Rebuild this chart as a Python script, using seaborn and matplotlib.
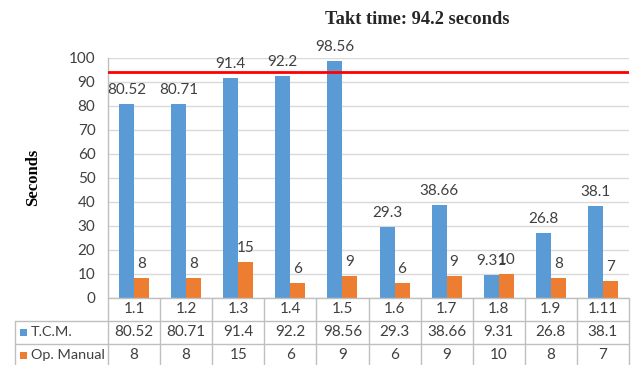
import matplotlib
matplotlib.use("Agg")
import matplotlib.pyplot as plt
import matplotlib.transforms as mtransforms
from matplotlib.patches import Rectangle
import seaborn as sns
import pandas as pd

# Chart data
categories = ["1.1", "1.2", "1.3", "1.4", "1.5", "1.6", "1.7", "1.8", "1.9", "1.11"]
tcm = [80.52, 80.71, 91.4, 92.2, 98.56, 29.3, 38.66, 9.31, 26.8, 38.1]
op_manual = [8, 8, 15, 6, 9, 6, 9, 10, 8, 7]
series_names = ["T.C.M.", "Op. Manual"]
takt_time = 94.2
y_ticks = [0, 10, 20, 30, 40, 50, 60, 70, 80, 90, 100]

colors = ["#5B9BD5", "#ED7D31"]
text_color = "#404040"
grid_color = "#D9D9D9"
table_line = "#BFBFBF"
fs = 11

sns.set_theme(style="white")
plt.rcParams["font.family"] = ["Lato", "DejaVu Sans"]

df = pd.DataFrame({
    "category": categories * 2,
    "value": tcm + op_manual,
    "series": [series_names[0]] * len(categories) + [series_names[1]] * len(categories),
})

fig = plt.figure(figsize=(6.36, 3.65), dpi=100)
ax = fig.add_axes([108 / 636, (365 - 297.5) / 365, 521 / 636, 239.8 / 365])

sns.barplot(data=df, x="category", y="value", hue="series", order=categories,
            hue_order=series_names, palette=colors, width=0.576, saturation=1,
            linewidth=0, ax=ax, legend=False)

for cont in ax.containers:
    ax.bar_label(cont, labels=[f"{v:g}" for v in cont.datavalues],
                 padding=5, fontsize=fs, color=text_color)

ax.set_ylim(0, 100)
ax.set_xlim(-0.5, len(categories) - 0.5)
ax.set_yticks(y_ticks)
ax.tick_params(axis="y", length=0, pad=9, labelsize=fs, labelcolor=text_color)
ax.set_xticks([])
ax.set_xlabel("")
ax.set_ylabel("Seconds", family="Liberation Serif", fontweight="bold",
              fontsize=12, color="black", labelpad=20)
ax.yaxis.grid(True, color=grid_color, linewidth=1)
ax.set_axisbelow(True)
for side in ["top", "right", "bottom"]:
    ax.spines[side].set_visible(False)
ax.spines["left"].set_color(table_line)
ax.spines["left"].set_linewidth(1)

# Takt time reference line
ax.axhline(takt_time, color="#FF0000", linewidth=2, zorder=3)
fig.text(417 / 636, 1 - 20 / 365, f"Takt time: {takt_time:g} seconds",
         family="Liberation Serif", fontweight="bold", fontsize=13.3,
         ha="center", va="center")

# Data table beneath the axis
trans = mtransforms.blended_transform_factory(ax.transData, ax.transAxes)
row_h = 23 / 239.8
n = len(categories)
rows_bottom = -3 * row_h
legend_left = ax.transAxes.inverted().transform(fig.transFigure.transform((15 / 636, 0)))[0]

line_kw = dict(color=table_line, linewidth=1, clip_on=False)
# horizontal lines
ax.plot([-0.5, n - 0.5], [0, 0], transform=trans, **line_kw)
for r in range(1, 4):
    ax.plot([legend_left, 1], [-r * row_h] * 2, transform=ax.transAxes, **line_kw)
# vertical lines
for k in range(n + 1):
    ax.plot([k - 0.5] * 2, [0, rows_bottom], transform=trans, **line_kw)
ax.plot([legend_left] * 2, [-row_h, rows_bottom], transform=ax.transAxes, **line_kw)

for i, cat in enumerate(categories):
    ax.text(i, -0.5 * row_h, cat, transform=trans, ha="center", va="center",
            fontsize=fs, color=text_color)
    ax.text(i, -1.5 * row_h, f"{tcm[i]:g}", transform=trans, ha="center", va="center",
            fontsize=fs, color=text_color)
    ax.text(i, -2.5 * row_h, f"{op_manual[i]:g}", transform=trans, ha="center", va="center",
            fontsize=fs, color=text_color)

for r, (name, col) in enumerate(zip(series_names, colors)):
    yc = 1 - (297.5 + 23 * (r + 1.5)) / 365
    fig.patches.append(Rectangle((20 / 636, yc - 3.5 / 365), 7 / 636, 7 / 365,
                                 transform=fig.transFigure, facecolor=col,
                                 edgecolor="none"))
    fig.text(31 / 636, yc, name, ha="left", va="center", fontsize=10.4,
             color=text_color)

fig.savefig("out.png", dpi=100)
